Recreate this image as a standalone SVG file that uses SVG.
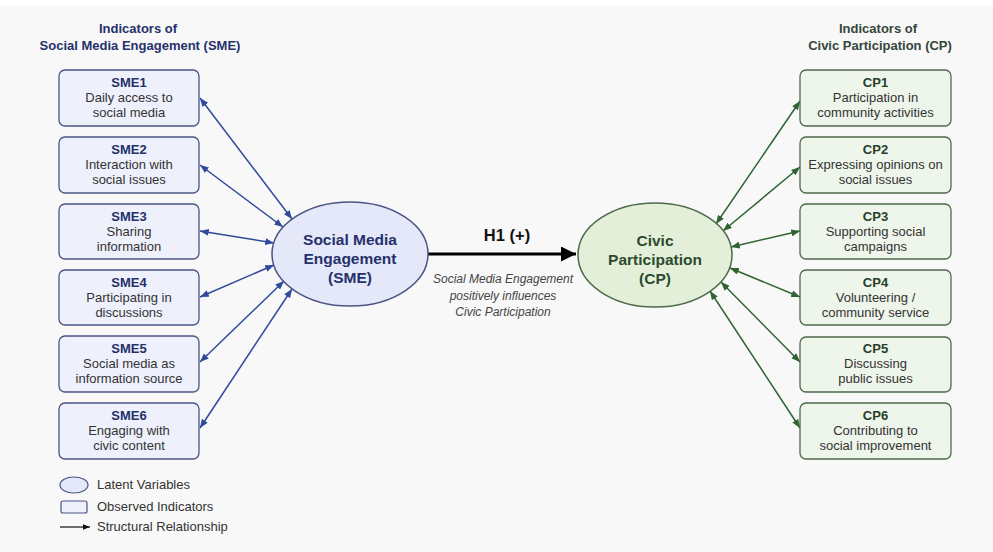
<svg xmlns="http://www.w3.org/2000/svg" width="993" height="552" viewBox="0 0 993 552">
<defs>
<marker id="ab" viewBox="0 0 10 8" refX="10" refY="4" markerWidth="9" markerHeight="7" markerUnits="userSpaceOnUse" orient="auto-start-reverse"><path d="M0,0 L10,4 L0,8 z" fill="#2f4a9a"/></marker>
<marker id="ag" viewBox="0 0 10 8" refX="10" refY="4" markerWidth="9" markerHeight="7" markerUnits="userSpaceOnUse" orient="auto-start-reverse"><path d="M0,0 L10,4 L0,8 z" fill="#2e6432"/></marker>
<marker id="ak" viewBox="0 0 10 10" refX="10" refY="5" markerWidth="16" markerHeight="15" markerUnits="userSpaceOnUse" orient="auto"><path d="M0,0 L10,5 L0,10 z" fill="#000"/></marker>
<marker id="aks" viewBox="0 0 10 8" refX="10" refY="4" markerWidth="7" markerHeight="6" markerUnits="userSpaceOnUse" orient="auto"><path d="M0,0 L10,4 L0,8 z" fill="#111"/></marker>
</defs>
<style>
text{font-family:"Liberation Sans",Arial,sans-serif;text-anchor:middle}
.sbox{fill:#eef0fb;stroke:#4a5584;stroke-width:1.3}
.cbox{fill:#eef5ea;stroke:#4d6a4a;stroke-width:1.3}
.st{font-size:13px;font-weight:bold;fill:#24306a}
.ct{font-size:13px;font-weight:bold;fill:#26402a}
.d{font-size:13px;fill:#333}
.hs{font-size:13px;font-weight:bold;fill:#26316c}
.hc{font-size:13px;font-weight:bold;fill:#34463a}
.bl{stroke:#2f4a9a;stroke-width:1.5;fill:none;marker-start:url(#ab);marker-end:url(#ab)}
.gl{stroke:#2e6432;stroke-width:1.5;fill:none;marker-start:url(#ag);marker-end:url(#ag)}
.lg{font-size:13px;fill:#333;text-anchor:start}
</style>
<rect x="0" y="0" width="993" height="552" fill="#f8f8f8"/>
<rect x="0" y="0" width="993" height="6" fill="#ffffff"/>

<g id="header-sme"><text class="hs" x="138" y="33">Indicators of</text><text class="hs" x="140" y="50">Social Media Engagement (SME)</text></g>
<g id="header-cp"><text class="hc" x="878" y="33">Indicators of</text><text class="hc" x="880" y="50">Civic Participation (CP)</text></g>

<g id="connectors">
<line class="bl" x1="200" y1="98" x2="292" y2="219"/>
<line class="bl" x1="200" y1="165" x2="283" y2="227"/>
<line class="bl" x1="200" y1="231" x2="274" y2="243"/>
<line class="bl" x1="200" y1="297" x2="274" y2="265"/>
<line class="bl" x1="200" y1="362" x2="284" y2="281"/>
<line class="bl" x1="200" y1="428" x2="292" y2="289"/>
<line class="gl" x1="800" y1="101" x2="716" y2="224"/>
<line class="gl" x1="800" y1="167" x2="723" y2="231"/>
<line class="gl" x1="800" y1="231" x2="731" y2="247"/>
<line class="gl" x1="800" y1="297" x2="730" y2="268"/>
<line class="gl" x1="800" y1="362" x2="721" y2="282"/>
<line class="gl" x1="800" y1="428" x2="710" y2="291"/>
<line x1="428" y1="254" x2="576" y2="254" stroke="#000" stroke-width="3" marker-end="url(#ak)"/>
</g>

<g id="SME1"><rect class="sbox" x="59" y="70" width="140" height="56" rx="6"/><text class="st" x="129" y="87">SME1</text><text class="d" x="129" y="102">Daily access to</text><text class="d" x="129" y="117">social media</text></g>
<g id="SME2"><rect class="sbox" x="59" y="137" width="140" height="56" rx="6"/><text class="st" x="129" y="154">SME2</text><text class="d" x="129" y="169">Interaction with</text><text class="d" x="129" y="184">social issues</text></g>
<g id="SME3"><rect class="sbox" x="59" y="204" width="140" height="55" rx="6"/><text class="st" x="129" y="221">SME3</text><text class="d" x="129" y="236">Sharing</text><text class="d" x="129" y="251">information</text></g>
<g id="SME4"><rect class="sbox" x="59" y="270" width="140" height="55" rx="6"/><text class="st" x="129" y="287">SME4</text><text class="d" x="129" y="302">Participating in</text><text class="d" x="129" y="317">discussions</text></g>
<g id="SME5"><rect class="sbox" x="59" y="336" width="140" height="56" rx="6"/><text class="st" x="129" y="353">SME5</text><text class="d" x="129" y="368">Social media as</text><text class="d" x="129" y="383">information source</text></g>
<g id="SME6"><rect class="sbox" x="59" y="403" width="140" height="56" rx="6"/><text class="st" x="129" y="420">SME6</text><text class="d" x="129" y="435">Engaging with</text><text class="d" x="129" y="450">civic content</text></g>

<g id="CP1"><rect class="cbox" x="800" y="70" width="151" height="56" rx="6"/><text class="ct" x="875.5" y="87">CP1</text><text class="d" x="875.5" y="102">Participation in</text><text class="d" x="875.5" y="117">community activities</text></g>
<g id="CP2"><rect class="cbox" x="800" y="137" width="151" height="56" rx="6"/><text class="ct" x="875.5" y="154">CP2</text><text class="d" x="875.5" y="169">Expressing opinions on</text><text class="d" x="875.5" y="184">social issues</text></g>
<g id="CP3"><rect class="cbox" x="800" y="204" width="151" height="55" rx="6"/><text class="ct" x="875.5" y="221">CP3</text><text class="d" x="875.5" y="236">Supporting social</text><text class="d" x="875.5" y="251">campaigns</text></g>
<g id="CP4"><rect class="cbox" x="800" y="270" width="151" height="55" rx="6"/><text class="ct" x="875.5" y="287">CP4</text><text class="d" x="875.5" y="302">Volunteering /</text><text class="d" x="875.5" y="317">community service</text></g>
<g id="CP5"><rect class="cbox" x="800" y="337" width="151" height="55" rx="6"/><text class="ct" x="875.5" y="353">CP5</text><text class="d" x="875.5" y="368">Discussing</text><text class="d" x="875.5" y="383">public issues</text></g>
<g id="CP6"><rect class="cbox" x="800" y="403" width="151" height="56" rx="6"/><text class="ct" x="875.5" y="420">CP6</text><text class="d" x="875.5" y="435">Contributing to</text><text class="d" x="875.5" y="450">social improvement</text></g>

<g id="SME"><ellipse cx="350" cy="254" rx="78" ry="52" fill="#e4e8f8" stroke="#4a5584" stroke-width="1.5"/><text x="350" y="245" font-size="15.5" font-weight="bold" fill="#26316c">Social Media</text><text x="350" y="264" font-size="15.5" font-weight="bold" fill="#26316c">Engagement</text><text x="350" y="283" font-size="15.5" font-weight="bold" fill="#26316c">(SME)</text></g>
<g id="CP"><ellipse cx="655" cy="255" rx="77" ry="52" fill="#e3efd9" stroke="#4d6a4a" stroke-width="1.5"/><text x="655" y="246" font-size="15.5" font-weight="bold" fill="#2c4a2e">Civic</text><text x="655" y="265" font-size="15.5" font-weight="bold" fill="#2c4a2e">Participation</text><text x="655" y="284" font-size="15.5" font-weight="bold" fill="#2c4a2e">(CP)</text></g>

<g id="H1-label"><text x="507" y="241" font-size="16.5" font-weight="bold" fill="#111">H1 (+)</text><text x="503" y="283" font-size="12" font-style="italic" fill="#444">Social Media Engagement</text><text x="503" y="300" font-size="12" font-style="italic" fill="#444">positively influences</text><text x="503" y="316" font-size="12" font-style="italic" fill="#444">Civic Participation</text></g>

<g id="legend">
<ellipse cx="74" cy="485" rx="14" ry="8" fill="#e4e8f8" stroke="#4a5584" stroke-width="1.2"/>
<text class="lg" x="97" y="489">Latent Variables</text>
<rect x="61" y="501" width="26" height="12" rx="2" fill="#eef0fb" stroke="#4a5584" stroke-width="1.2"/>
<text class="lg" x="97" y="511">Observed Indicators</text>
<line x1="60" y1="527" x2="90" y2="527" stroke="#111" stroke-width="1.2" marker-end="url(#aks)"/>
<text class="lg" x="97" y="531">Structural Relationship</text>
</g>
</svg>
